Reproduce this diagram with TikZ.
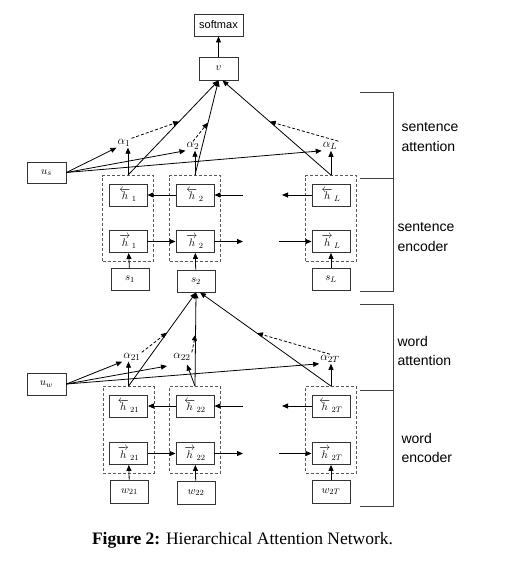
\documentclass[tikz,border=0pt]{standalone}
\usepackage{amsmath}
\usepackage{fontspec}
\setmainfont{Liberation Serif}
\setsansfont{Liberation Sans}
\usetikzlibrary{arrows.meta, positioning, calc, fit, backgrounds}

\begin{document}
\begin{tikzpicture}[
        % styles
        x=1pt, y=-1pt,
        >={Triangle[length=6pt,width=5pt]},
        box/.style={
            draw=black!80, line width=0.9pt, minimum width=38pt, minimum height=22pt,
            inner sep=0pt, fill=white, font=\fontsize{11}{13}\selectfont
        },
        group/.style={
            draw=black!65, line width=0.9pt, dash pattern=on 3pt off 2pt,
            inner xsep=6pt, inner ysep=8pt
        },
        weight/.style={inner sep=1pt, font=\fontsize{12.5}{14}\selectfont},
        arrow/.style={->, line width=0.8pt, color=black},
        dashed_arrow/.style={->, line width=0.8pt, dash pattern=on 3pt off 2pt},
        layer/.style={anchor=west, align=left, font=\sffamily\fontsize{14}{19.5}\selectfont},
        brace/.style={draw=black!75, line width=0.8pt}
    ]

    \fill[white] (0,0) rectangle (531,565);
    \useasboundingbox (0,0) rectangle (531,565);

    % 1. sentence level
    \node (softmax) [box, minimum width=49pt, font=\sffamily\fontsize{11}{13}\selectfont] at (218.5,25) {softmax};
    \node (v) [box, minimum width=39pt, minimum height=23pt] at (218.5,68.5) {$v$};
    \node (us) [box, minimum width=39pt, minimum height=21pt] at (46.5,172.5) {$u_s$};

    % bidirectional states
    \node (h1b) [box] at (128,195) {$\overleftarrow{h}_{\,1}$};
    \node (h1f) [box] at (128,241.5) {$\overrightarrow{h}_{\,1}$};
    \node (h2b) [box] at (195,195) {$\overleftarrow{h}_{\,2}$};
    \node (h2f) [box] at (195,241.5) {$\overrightarrow{h}_{\,2}$};
    \node (hLb) [box] at (331,195) {$\overleftarrow{h}_{\,L}$};
    \node (hLf) [box] at (331,241.5) {$\overrightarrow{h}_{\,L}$};
    \node (g1) [group, fit=(h1b) (h1f)] {};
    \node (g2) [group, fit=(h2b) (h2f)] {};
    \node (gL) [group, fit=(hLb) (hLf)] {};

    % sentence inputs
    \node (s1) [box] at (130,279) {$s_1$};
    \node (s2) [box] at (196,281) {$s_2$};
    \node (sL) [box] at (331,279) {$s_L$};

    % attention weights
    \node (a1) [weight] at (124,143) {$\alpha_1$};
    \node (a2) [weight] at (193,146) {$\alpha_2$};
    \node (aL) [weight] at (330,146) {$\alpha_L$};

    % 2. word level
    \node (uw) [box, minimum width=39pt, minimum height=22pt] at (46.5,384) {$u_w$};

    \node (h21b) [box] at (128.5,406) {$\overleftarrow{h}_{\,21}$};
    \node (h21f) [box] at (128.5,453.5) {$\overrightarrow{h}_{\,21}$};
    \node (h22b) [box] at (195,406) {$\overleftarrow{h}_{\,22}$};
    \node (h22f) [box] at (195,453.5) {$\overrightarrow{h}_{\,22}$};
    \node (h2Tb) [box] at (331,406) {$\overleftarrow{h}_{\,2T}$};
    \node (h2Tf) [box] at (331,453.5) {$\overrightarrow{h}_{\,2T}$};
    \node (g21) [group, fit=(h21b) (h21f)] {};
    \node (g22) [group, fit=(h22b) (h22f)] {};
    \node (g2T) [group, fit=(h2Tb) (h2Tf)] {};

    \node (w21) [box, minimum height=23pt] at (129.5,491.5) {$w_{21}$};
    \node (w22) [box, minimum height=23pt] at (196,492.5) {$w_{22}$};
    \node (w2T) [box, minimum height=23pt] at (331,491.5) {$w_{2T}$};

    \node (a21) [weight] at (132,357) {$\alpha_{21}$};
    \node (a22) [weight] at (182,357) {$\alpha_{22}$};
    \node (a2T) [weight] at (330,359) {$\alpha_{2T}$};

    % free ends of the recurrent chains
    \coordinate (b2_in) at (243,195);
    \coordinate (bL_out) at (282,195);
    \coordinate (f2_out) at (243,241.5);
    \coordinate (fL_in) at (279,241.5);
    \coordinate (b22_in) at (243,406);
    \coordinate (b2T_out) at (282,406);
    \coordinate (f22_out) at (243,453.5);
    \coordinate (f2T_in) at (279,453.5);
    \coordinate (uw_tip) at (167,366);

    % 3. connections, sentence level
    \draw[arrow] (v) -- (softmax);
    \draw[arrow] (s1) -- (h1f);
    \draw[arrow] (s2) -- (h2f);
    \draw[arrow] (sL) -- (hLf);
    \draw[arrow] (h1f) -- (h2f);
    \draw[arrow] (h2f) -- (f2_out);
    \draw[arrow] (fL_in) -- (hLf);
    \draw[arrow] (h2b) -- (h1b);
    \draw[arrow] (b2_in) -- (h2b);
    \draw[arrow] (hLb) -- (bL_out);

    \draw[arrow] (g1.north) -- (g1.north |- a1.south);
    \draw[arrow] (g2.north) -- (g2.north |- a2.south);
    \draw[arrow] (gL.north) -- (gL.north |- aL.south);
    \draw[arrow] (us.east) -- (a1.south west);
    \draw[arrow] (us.east) -- (a2.south west);
    \draw[arrow] (us.east) -- (aL.south west);

    \draw[arrow] (g1.north) -- (v.south);
    \draw[arrow] (g2.north) -- (v.south);
    \draw[arrow] (gL.north) -- ($(v.south)+(4,0)$);

    \coordinate (p1) at ($(g1.north)!0.565!(v.south)$);
    \coordinate (p2) at ($(g2.north)!0.555!(v.south)$);
    \coordinate (pL) at ($(gL.north)!0.565!($(v.south)+(4,0)$)$);
    \draw[dashed_arrow] (a1.north east) -- (p1);
    \draw[dashed_arrow] (a2.north) -- (p2);
    \draw[dashed_arrow] (aL.north east) -- (pL);

    % 4. connections, word level
    \draw[arrow] (w21) -- (h21f);
    \draw[arrow] (w22) -- (h22f);
    \draw[arrow] (w2T) -- (h2Tf);
    \draw[arrow] (h21f) -- (h22f);
    \draw[arrow] (h22f) -- (f22_out);
    \draw[arrow] (f2T_in) -- (h2Tf);
    \draw[arrow] (h22b) -- (h21b);
    \draw[arrow] (b22_in) -- (h22b);
    \draw[arrow] (h2Tb) -- (b2T_out);

    \draw[arrow] (g21.north) -- (g21.north |- a21.south);
    \draw[arrow] (g22.north) -- ($(a22.south)+(5,3)$);
    \draw[arrow] (g2T.north) -- (g2T.north |- a2T.south);
    \draw[arrow] (uw.east) -- (a21.south west);
    \draw[arrow] (uw.east) -- (uw_tip);
    \draw[arrow] (uw.east) -- (a2T.south west);

    \draw[arrow] (g21.north) -- (s2.south);
    \draw[arrow] (g22.north) -- (s2.south);
    \draw[arrow] (g2T.north) -- ($(s2.south)+(4,0)$);

    \coordinate (p21) at ($(g21.north)!0.571!(s2.south)$);
    \coordinate (p22) at ($(g22.north)!0.55!(s2.south)$);
    \coordinate (p2T) at ($(g2T.north)!0.565!($(s2.south)+(4,0)$)$);
    \draw[dashed_arrow] (a21.north east) -- (p21);
    \draw[dashed_arrow] (a22.north east) -- (p22);
    \draw[dashed_arrow] (a2T.north) -- (p2T);

    % 5. layer brackets
    \draw[brace] (360,92) -| (393,178) -- (360,178);
    \draw[brace] (393,178) |- (360,291);
    \draw[brace] (360,304) -| (393,390) -- (360,390);
    \draw[brace] (393,390) |- (360,506);
    \node (lab_sa) [layer] at (398,137) {sentence\\attention};
    \node (lab_se) [layer] at (394,237) {sentence\\encoder};
    \node (lab_wa) [layer] at (394,351) {word\\attention};
    \node (lab_we) [layer] at (398,448) {word\\encoder};

    % caption
    \node (caption) [font=\fontsize{17.5}{20}\selectfont] at (242.5,540) {\textbf{Figure 2:} Hierarchical Attention Network.};

\end{tikzpicture}
\end{document}
